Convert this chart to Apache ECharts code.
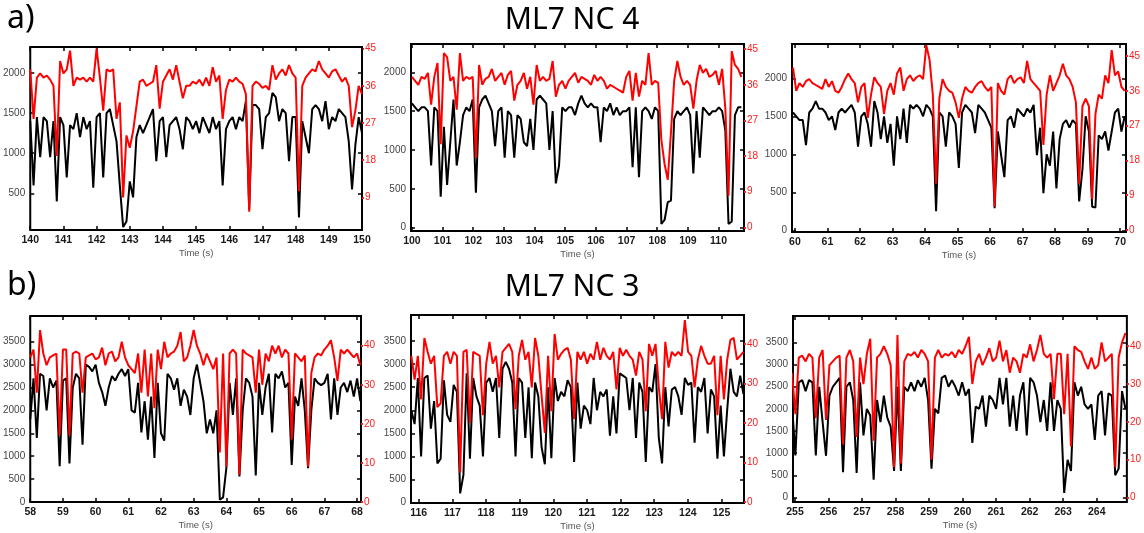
<!DOCTYPE html>
<html><head><meta charset="utf-8">
<script src="https://cdn.jsdelivr.net/npm/echarts@6/dist/echarts.min.js"></script>
<style>html,body{margin:0;padding:0;background:#fff}#c{width:1144px;height:533px}</style>
</head><body><div id="c"></div>
<script>
// ---------------- DATA ----------------
// Panel A1 (ML7 NC 4, 140-150 s)
const A1_T0 = 140, A1_DT = 0.1;
const A1_BLACK = [1400,600,1450,950,1450,1400,950,1400,400,1450,
1350,700,1350,1300,1500,1200,1450,1300,1400,570,
1450,1500,700,1500,1550,1350,1150,600,80,150,
650,450,1200,1350,1250,1350,1450,1550,900,1400,
1450,950,1350,1400,1450,1300,1050,1450,1400,1300,
1400,1250,1450,1350,1250,1450,1300,1400,600,1300,
1400,1450,1300,1450,1400,1650,300,1600,1600,1550,
1050,1450,1500,1750,1700,1400,1550,1500,900,1450,
1450,200,1400,1200,1000,1550,1600,1550,1400,1650,
1300,1450,1400,1550,1500,1450,1150,550,1100,1450,1250];
const A1_RED = [40,28,38,39,38,38.5,37.5,36,19,42,
39,40,44.5,36,38,37.5,38,37,38,37,
45,38,30,40,39.5,40,28,32,9,24,
21,25,31,37,37.5,36,36.5,37,41,30.5,
37,38.5,40,37.5,41,37,33,36,36,37,
36.5,37.5,36,38,36,40.5,37,38.5,28,35,
37.5,37,38,37,36.5,34,5.5,36,37,36.5,
35.5,36,35,41,37.5,39,40,38.5,41,39,
38,10.5,36,38,39,40,39.5,42,40,39,
38,39.5,40,38.5,37,38,36,26,30,36,34];

// Panel A2 (ML7 NC 4, 100-110.8 s)
const A2_T0 = 100, A2_DT = 0.1043;
const A2_BLACK = [1600,1550,1500,1550,1550,1500,800,1550,1500,400,
1300,550,1100,1650,800,1100,1450,1550,1500,1650,
450,1550,1650,1700,1600,1500,1050,1500,1550,900,
1500,1450,900,1450,1400,1100,1050,1400,1000,1650,
1700,1650,1600,1000,1500,570,800,1550,1500,1550,
1550,1450,1600,1700,1600,1550,1600,1550,1550,1100,
1550,1500,1600,1450,1550,1450,1500,1500,1550,780,
1550,650,1500,1550,1500,1400,1550,1500,50,100,
330,350,1400,1500,1450,1500,1550,1450,700,1500,
900,1550,1500,1450,1500,1500,1550,1500,1250,50,
80,1450,1550,1550];
const A2_RED = [38,37,36,38,37.5,39,31,38,41.5,21,
44,43,37,38,29.7,44,37,38,37.5,38,
17.5,41,36,37.5,38,40,37,38,39,36,
38.5,39.5,32,36,37,39,35,38,31,41,
37,38,37,37.5,42,33,36,37,35,37,
38,39,36.5,38,37.5,37,36,38.5,37,38,
37,35,36,35.5,35,34.5,34,38,39.5,32,
39,33,37,36,44,36,37,36.5,22,16,
12,24,37,42,38,36,37,36,30,37,
41,39,40,38,38.5,39.5,36,40,30,8,
44.5,41,40,38];

// Panel A3 (ML7 NC 4, 60-70.2 s)
const A3_T0 = 59.94, A3_DT = 0.1;
const A3_BLACK = [1550,1500,1450,1450,1120,1550,1600,1700,1600,1600,
1550,1450,1500,1320,1550,1600,1550,1600,1650,1550,
1100,1500,1550,1400,1100,1700,1550,1200,1500,1150,
1400,850,1500,1200,1600,1150,1650,1600,1650,1600,
1500,1650,1600,1500,250,1550,1500,1100,1550,1500,
1400,820,1550,1650,1600,1550,1280,1650,1600,1550,
1450,1350,290,1300,990,700,1450,1500,1350,1600,
1550,1500,1600,1550,1650,990,1350,490,1000,850,
1300,550,1200,1400,1450,1350,1450,1400,380,800,
1500,1300,310,300,1250,1200,1300,1050,1300,1550,
1600,1300,1500];
const A3_RED = [42,36,38,37,38.5,39,38,37.5,37,36.5,
39,37,38.5,36,35.5,37,39,40.5,39,38,
33,37,38,29,35,39.5,38,37,30,36,
38,35,40.5,42,36,39,40,38.5,39.5,40,
39,47.8,44,35,12,34,39,37,36,35.5,
33,29,34,37,36,35.5,37,38,38.5,37,
36,37,6,38,36,35,39,40,38,39,
39.5,38,43.7,39,38,37,36,22,35,40,
36,38,40,43,40,39,37,33,12,32,
34,32,8,30,35,34,40,38,46.5,40,
41,37,36];

// Panel B1 (ML7 NC 3, 58-68.1 s)
const B1_T0 = 58, B1_DT = 0.1;
const B1_BLACK = [1800,2700,1400,2800,2750,2000,2700,2500,2650,780,
2650,2700,840,2500,2800,2700,1250,3000,2950,2850,
3000,2600,2400,2100,2500,2750,2650,2800,2900,2750,
2900,2000,1950,2600,1520,2200,1360,2300,960,2600,
1500,1340,2800,2700,2450,2700,2100,2450,2300,1900,
2700,3000,2600,2200,1500,1800,1500,2000,50,100,
740,2600,1900,2700,560,2000,2700,2600,2300,580,
2600,1900,2500,2800,1520,2800,2700,2850,2500,2600,
810,2300,2100,2700,2000,740,2000,2700,2600,2550,
2600,2800,1800,2700,1900,2500,2600,2400,2650,2300,
2700,2200];
const B1_RED = [37,39,28,44,38,35,37,37.5,38,17,
39,39,17,38,38.5,38,28,37,37.5,38,
36.5,37,39.5,35,38,38.5,36,37,41,37,
35,34,33,38,28,39,27,38,24,39,
34,41,37,38,38.5,40,43.5,36,37,40,
44,40,38,35,38,36,34,37,12.7,38,
9,38,39,38,7,39,38,37.5,37,28,
39,30,38,36,40,38,40,37,39,38,
16,38,37,36,37.5,9,33,37,38,37.5,
39,40,41.4,37,31,39,38,39,38,37,
38,35];

// Panel B2 (ML7 NC 3, 115.8-125.7 s)
const B2_T0 = 115.78, B2_DT = 0.0968;
const B2_BLACK = [2000,1700,2700,1000,2700,2750,1600,2200,850,950,
2650,1900,1750,2550,2400,200,600,2800,950,2700,
2300,2100,1000,2600,2700,2400,2700,1400,2900,3050,
2900,2600,1000,2700,2600,1400,2500,960,2600,2300,
1200,830,2500,960,2700,2200,2400,2300,2650,2500,
880,2600,1600,2100,2000,1700,2700,2000,2400,2300,
2450,1450,2300,1500,2800,2750,2700,2000,2700,1400,
2600,2400,880,2500,2400,3000,1400,850,2500,1650,
2450,2500,2300,1900,2700,2550,2600,1300,2500,2400,
2700,1500,2450,2300,950,2100,1000,2000,2900,2400,
2300,2750,2350];
const B2_RED = [37,31,37,26,41.5,38,35,37,24,25,
37,38,35,38,37,7.5,38,38.5,20,38,
37.5,37,22,35,40.5,35,37,29,38,39,
40,38,23.5,37,41,36,38,29,41.5,37,
27,17.5,37,23,42.5,36,37.5,38.5,39,36,
21,38,36,38,35,37.5,36,40.5,36,39,
37,36,38,28.5,39,37,38.5,37,36,32,
38,36,23,40,37,40,29,21,40.5,34,
38,37,38,37,46,38,37,29,36,39.5,
37,35,35,37,22,37,26,36,41,41.5,
36,37,38];

// Panel B3 (ML7 NC 3, 255-264.9 s)
const B3_T0 = 254.91, B3_DT = 0.1015;
const B3_BLACK = [2100,950,2600,2650,2400,2650,2600,950,2500,1700,
940,2300,2500,2600,2700,570,2500,2600,2200,550,
2600,1400,2000,1850,400,2200,1700,2300,1800,1600,
600,2500,600,2500,2400,2600,2400,2650,2500,2700,
2200,650,2000,1900,2700,2750,2500,2650,2500,2300,
2600,2300,2450,1230,2050,2000,2300,1600,2300,2200,
2000,2700,2100,2700,1600,2300,1500,2300,2600,1400,
2700,2600,2300,1700,2200,1500,2600,1500,2200,2000,
100,850,600,2600,2300,2500,2100,2000,2100,1300,
2300,2400,1400,2350,2300,500,650,2400,2000];
const B3_RED = [33,22,37,37.5,36,38,37,21,37,39,
20.5,35,36,37,37.5,14,37,39,36,16,
37,30,38,42,15,37,38,40,38,35,
8,43,9,36,38,37.5,38.5,37,39,38,
36,10,37,39,37,38,37.5,38.5,37,39,
38,40,42.5,30,36,38,35,37,39.5,36,
37,41.5,36,39,33,37,36,33,38,37,
40.5,36,39,43,38,37,38,26,38,38,
22,38,13.5,40,39,38.5,36,34,37,34,
35,41,36,37,38,8,37,41,43.5];

// Tick labels
const X_TICKS = [
  [140,141,142,143,144,145,146,147,148,149,150],
  [100,101,102,103,104,105,106,107,108,109,110],
  [60,61,62,63,64,65,66,67,68,69,70],
  [58,59,60,61,62,63,64,65,66,67,68],
  [116,117,118,119,120,121,122,123,124,125],
  [255,256,257,258,259,260,261,262,263,264]
];
const YL_TICKS = [
  [500,1000,1500,2000],
  [0,500,1000,1500,2000],
  [0,500,1000,1500,2000],
  [0,500,1000,1500,2000,2500,3000,3500],
  [0,500,1000,1500,2000,2500,3000,3500],
  [0,500,1000,1500,2000,2500,3000,3500]
];
const YR_TICKS = [
  [9,18,27,36,45],
  [0,9,18,27,36,45],
  [0,9,18,27,36,45],
  [0,10,20,30,40],
  [0,10,20,30,40],
  [0,10,20,30,40]
];
const TITLES = ['ML7 NC 4', 'ML7 NC 3'];
const PANEL_LETTERS = ['a)', 'b)'];
const X_NAME = 'Time (s)';

// ---------------- LAYOUT ----------------
const panels = [
  {t0:A1_T0, dt:A1_DT, black:A1_BLACK, red:A1_RED},
  {t0:A2_T0, dt:A2_DT, black:A2_BLACK, red:A2_RED},
  {t0:A3_T0, dt:A3_DT, black:A3_BLACK, red:A3_RED},
  {t0:B1_T0, dt:B1_DT, black:B1_BLACK, red:B1_RED},
  {t0:B2_T0, dt:B2_DT, black:B2_BLACK, red:B2_RED},
  {t0:B3_T0, dt:B3_DT, black:B3_BLACK, red:B3_RED}
];
const boxes = [
  {left:28, top:47, width:334, height:183},
  {left:411, top:44, width:333, height:187},
  {left:792, top:44, width:334, height:188},
  {left:29, top:316, width:332, height:186},
  {left:411, top:315, width:333, height:188},
  {left:793, top:316, width:334, height:186}
];
const xRange = [[140,150],[99.97,110.83],[59.91,70.18],[58,68.12],[115.77,125.67],[254.94,264.9]];
const ylRange = [[44,2323],[-42,2364],[-22,2451],[0,4060],[-9,4064],[-104,4098]];
const yrRange = [[1.1,45.4],[-0.93,46.3],[-0.52,48.1],[0,47.6],[-0.2,47.3],[-1.2,48.0]];

const FONT = "'Liberation Sans Narrow','Liberation Sans',Arial,sans-serif";
const RED = '#ff1a1a';
const plain = v => String(Math.round(v));

const grid = [], xAxis = [], yAxis = [], series = [];
panels.forEach((p, i) => {
  const b = boxes[i];
  grid.push({left:b.left, top:b.top, width:b.width, height:b.height,
    show:true, borderColor:'#000', borderWidth:2, backgroundColor:'transparent'});
  // bottom axis (with labels)
  const xi = xAxis.length;
  xAxis.push({type:'value', gridIndex:i, position:'bottom', min:xRange[i][0], max:xRange[i][1],
    axisLine:{show:false, onZero:false},
    axisTick:{show:true, inside:true, length:4, lineStyle:{color:'#000', width:1.5}, customValues:X_TICKS[i]},
    axisLabel:{show:true, customValues:X_TICKS[i], formatter:plain, fontSize:10.5, color:'#1a1a1a', margin:5, fontFamily:FONT, fontWeight:'bold'},
    splitLine:{show:false},
    name:X_NAME, nameLocation:'middle', nameGap:18,
    nameTextStyle:{fontSize:9.5, color:'#555', fontFamily:FONT}
  });
  // top mirror ticks
  xAxis.push({type:'value', gridIndex:i, position:'top', min:xRange[i][0], max:xRange[i][1],
    axisLine:{show:false, onZero:false},
    axisTick:{show:true, inside:true, length:4, lineStyle:{color:'#000', width:1.5}, customValues:X_TICKS[i]},
    axisLabel:{show:false}, splitLine:{show:false}
  });
  const yl = yAxis.length;
  yAxis.push({type:'value', gridIndex:i, position:'left', min:ylRange[i][0], max:ylRange[i][1],
    axisLine:{show:false, onZero:false},
    axisTick:{show:true, inside:true, length:4, lineStyle:{color:'#000', width:1.5}, customValues:YL_TICKS[i]},
    axisLabel:{show:true, customValues:YL_TICKS[i], formatter:plain, fontSize:10, color:'#444', margin:5, fontFamily:FONT},
    splitLine:{show:false}
  });
  const yr = yAxis.length;
  yAxis.push({type:'value', gridIndex:i, position:'right', min:yrRange[i][0], max:yrRange[i][1],
    axisLine:{show:false, onZero:false},
    axisTick:{show:true, inside:false, length:2, lineStyle:{color:RED, width:2}, customValues:YR_TICKS[i]},
    axisLabel:{show:true, customValues:YR_TICKS[i], formatter:plain, fontSize:10, color:RED, margin:3, fontFamily:FONT},
    splitLine:{show:false}
  });
  // right mirror of the left axis ticks
  yAxis.push({type:'value', gridIndex:i, position:'right', min:ylRange[i][0], max:ylRange[i][1],
    axisLine:{show:false, onZero:false},
    axisTick:{show:true, inside:true, length:4, lineStyle:{color:'#000', width:1.5}, customValues:YL_TICKS[i]},
    axisLabel:{show:false}, splitLine:{show:false}
  });
  const toPts = arr => arr.map((v, k) => [+(p.t0 + k * p.dt).toFixed(4), v]);
  series.push({type:'line', xAxisIndex:xi, yAxisIndex:yl, data:toPts(p.black),
    showSymbol:false, symbol:'none', lineStyle:{color:'#000', width:2}, z:2, animation:false, clip:true});
  series.push({type:'line', xAxisIndex:xi, yAxisIndex:yr, data:toPts(p.red),
    showSymbol:false, symbol:'none', lineStyle:{color:'#ff0000', width:2}, z:3, animation:false, clip:true});
});

const TFONT = "'Noto Sans','Open Sans',sans-serif";
const graphic = [
  {type:'text', left:'center', top:5, style:{text:TITLES[0], fontSize:30, fontFamily:TFONT, fill:'#000'}},
  {type:'text', left:7, top:3, style:{text:PANEL_LETTERS[0], fontSize:32, fontFamily:TFONT, fill:'#000'}},
  {type:'text', left:'center', top:272, style:{text:TITLES[1], fontSize:30, fontFamily:TFONT, fill:'#000'}},
  {type:'text', left:7, top:270, style:{text:PANEL_LETTERS[1], fontSize:32, fontFamily:TFONT, fill:'#000'}}
];

const chart = echarts.init(document.getElementById('c'), null, {renderer:'canvas'});
chart.setOption({animation:false, backgroundColor:'#fff', grid, xAxis, yAxis, series, graphic});
</script></body></html>
